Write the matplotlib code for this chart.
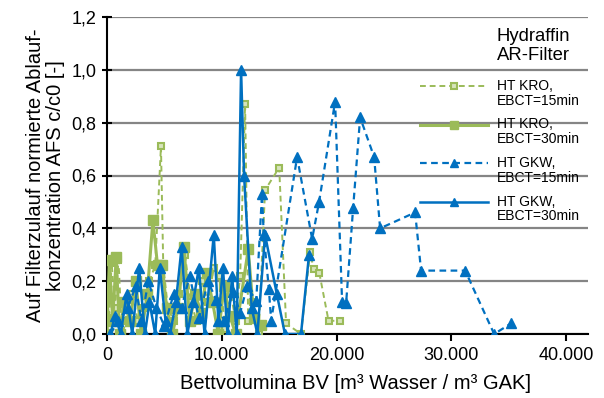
import matplotlib
matplotlib.use("Agg")
import matplotlib.pyplot as plt
from matplotlib.lines import Line2D
from matplotlib.ticker import FixedLocator, FuncFormatter

# ---- data (BV, c/c0) ----
kro15_x = [0, 200, 400, 700, 1000, 1300, 1700, 2200, 2700, 3200, 3700, 4200, 4700, 4900, 5300,
           5800, 6300, 6800, 7300, 7800, 8300, 8800, 9300, 9800, 10300, 10800, 11200, 11600,
           12030, 12300, 12700, 13200, 13770, 15000, 15600, 16900, 17700, 18000, 18500, 19300, 20300]
kro15_y = [0.13, 0.06, 0.27, 0.10, 0.28, 0.0, 0.05, 0.15, 0.05, 0.10, 0.20, 0.26, 0.71, 0.26, 0.10,
           0.05, 0.15, 0.30, 0.12, 0.05, 0.20, 0.12, 0.25, 0.22, 0.02, 0.15, 0.05, 0.22,
           0.87, 0.05, 0.12, 0.0, 0.545, 0.63, 0.04, 0.0, 0.31, 0.245, 0.23, 0.05, 0.05]

kro30_x = [0, 200, 500, 800, 1100, 1500, 2000, 2500, 3000, 3500, 4000, 4400, 4800, 5200, 5700,
           6200, 6700, 7200, 7700, 8200, 8700, 9200, 9700, 10200, 10700, 11200, 12300, 12800, 13400]
kro30_y = [0.0, 0.28, 0.05, 0.29, 0.0, 0.12, 0.05, 0.20, 0.0, 0.15, 0.43, 0.26, 0.26, 0.10, 0.0,
           0.10, 0.33, 0.05, 0.15, 0.08, 0.23, 0.12, 0.0, 0.18, 0.07, 0.0, 0.32, 0.06, 0.035]

gkw15_x = [300, 1000, 1800, 2500, 3000, 3600, 4300, 5000, 5800, 6500, 7200, 8000, 8800, 9500,
           10200, 11000, 11600, 12200, 13000, 13500, 13650, 14100, 14300, 16560, 17870, 18475,
           19870, 20480, 20830, 21440, 22050, 23270, 23790, 26840, 27360, 31200, 33725, 35200]
gkw15_y = [0.0, 0.05, 0.10, 0.18, 0.05, 0.20, 0.10, 0.03, 0.15, 0.10, 0.22, 0.06, 0.20, 0.13,
           0.05, 0.16, 0.08, 0.18, 0.125, 0.53, 0.38, 0.17, 0.05, 0.67, 0.36, 0.50,
           0.88, 0.12, 0.117, 0.477, 0.82, 0.67, 0.40, 0.46, 0.24, 0.24, 0.0, 0.04]

gkw30_x = [300, 700, 1200, 1700, 2200, 2800, 3300, 3700, 4200, 4600, 5100, 5500, 6000, 6500,
           7000, 7500, 8000, 8500, 9300, 9700, 10100, 10500, 10900, 11300, 11680, 11940, 12600,
           13100, 13770, 14800, 15500, 16900, 17600]
gkw30_y = [0.0, 0.07, 0.0, 0.15, 0.0, 0.25, 0.0, 0.12, 0.0, 0.25, 0.05, 0.0, 0.12, 0.33,
           0.0, 0.12, 0.25, 0.0, 0.375, 0.05, 0.25, 0.0, 0.22, 0.0, 1.0, 0.60, 0.10,
           0.0, 0.375, 0.15, 0.0, 0.0, 0.30]

labels = ["HT KRO,\nEBCT=15min", "HT KRO,\nEBCT=30min", "HT GKW,\nEBCT=15min", "HT GKW,\nEBCT=30min"]
legend_title = "Hydraffin\nAR-Filter"
x_ticks = [0, 10000, 20000, 30000, 40000]
y_ticks = [0.0, 0.2, 0.4, 0.6, 0.8, 1.0, 1.2]

green = "#9BBB59"
blue = "#0070C0"

plt.rcParams["font.family"] = ["Liberation Sans", "DejaVu Sans"]

W, H = 604, 398
fig = plt.figure(figsize=(W/100, H/100), dpi=100)
ax = fig.add_axes([107/W, 1-334/H, (588-107)/W, (334-17)/H])

styles = [
    dict(color=green, lw=1.4, ls=(0, (3, 2)), marker="s", ms=5, mfc="#D7E4BC", mec=green, mew=1.5),
    dict(color=green, lw=2.2, ls="-", marker="s", ms=6.5, mfc=green, mec=green),
    dict(color=blue, lw=1.6, ls=(0, (3, 2)), marker="^", ms=7, mfc=blue, mec=blue),
    dict(color=blue, lw=1.8, ls="-", marker="^", ms=7, mfc=blue, mec=blue),
]
series = [(kro15_x, kro15_y), (kro30_x, kro30_y), (gkw15_x, gkw15_y), (gkw30_x, gkw30_y)]
zords = [3, 3, 4, 4]
for (xs, ys), st, z in zip(series, styles, zords):
    ax.plot(xs, ys, zorder=z, **st)

ax.set_xlim(0, 41900)
ax.set_ylim(0, 1.2)
ax.xaxis.set_major_locator(FixedLocator(x_ticks))
ax.yaxis.set_major_locator(FixedLocator(y_ticks))
ax.xaxis.set_major_formatter(FuncFormatter(lambda v, p: f"{int(v):,}".replace(",", ".")))
ax.yaxis.set_major_formatter(FuncFormatter(lambda v, p: f"{v:.1f}".replace(".", ",")))
ax.tick_params(axis="both", labelsize=13, width=1.5, color="black")
ax.tick_params(axis="y", direction="inout", length=7, pad=4)
ax.tick_params(axis="x", direction="out", length=5, pad=4)

ax.grid(axis="y", color="#858585", lw=1.6, zorder=0)
ax.set_axisbelow(True)
for s in ["top", "right"]:
    ax.spines[s].set_visible(False)
ax.spines["left"].set_linewidth(1.5)
ax.spines["bottom"].set_linewidth(1.5)

ax.set_xlabel("Bettvolumina BV [m³ Wasser / m³ GAK]", fontsize=14.5)
ax.xaxis.set_label_coords((356-107)/(588-107), -(374-334)/(334-17))
ax.set_ylabel("Auf Filterzulauf normierte Ablauf-\nkonzentration AFS c/c0 [-]", fontsize=14.5,
              linespacing=1.05, labelpad=5)

# legend (drawn manually so the handle aligns with the first label line)
fig.text(497/W, 1-46/H, legend_title, fontsize=13.3, va="center", ha="left", linespacing=1.15)
handle_y = [86, 124.5, 163, 201.5]
for lab, st, yy in zip(labels, styles, handle_y):
    yf = 1 - yy/H
    fig.add_artist(Line2D([420/W, 488/W], [yf, yf], transform=fig.transFigure,
                          color=st["color"], lw=st["lw"], ls=st["ls"]))
    fig.add_artist(Line2D([454/W], [yf], transform=fig.transFigure, ls="none",
                          marker=st["marker"], ms=st["ms"] - 1, mfc=st["mfc"], mec=st["mec"],
                          mew=st.get("mew", 1.0)))
    fig.text(497/W, yf + 7/H, lab, fontsize=10, va="top", ha="left", linespacing=1.05)

fig.savefig("out.png", dpi=100)
